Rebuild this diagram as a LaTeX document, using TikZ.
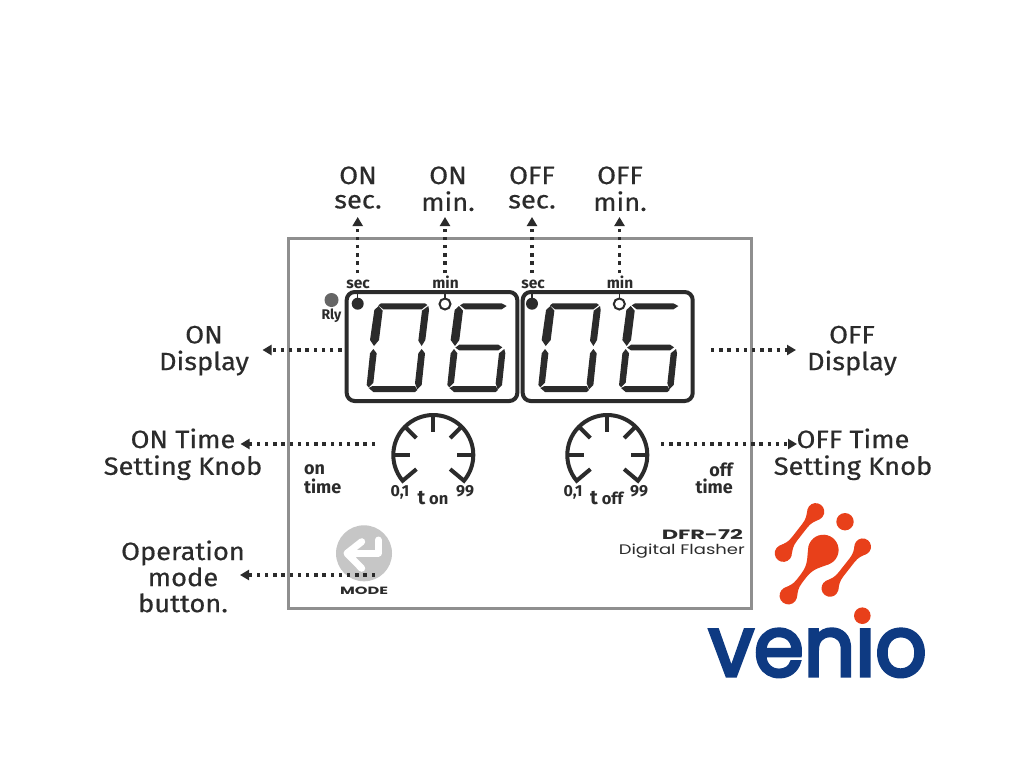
\documentclass[tikz,border=0pt]{standalone}
\usepackage{fontspec}
\usepackage{graphicx}
\usetikzlibrary{arrows.meta}
\setmainfont{Fira Sans}
\newfontfamily\labfont[FakeStretch=1.09,FakeBold=0.5]{Fira Sans}
\newfontfamily\widefont{Poppins}
\newfontfamily\venfont[FakeBold=4]{Poppins}
\definecolor{ink}{HTML}{2B2B2B}
\definecolor{framegray}{HTML}{8F8F8F}
\definecolor{btngray}{HTML}{C6C6C6}
\definecolor{rlygray}{HTML}{666666}
\definecolor{logoorange}{HTML}{E8401A}
\definecolor{logoblue}{HTML}{0E3A82}
\newcommand{\mlc}[1]{\begin{tabular}[t]{@{}c@{}}#1\end{tabular}}
\newcommand{\mll}[1]{\begin{tabular}[t]{@{}l@{}}#1\end{tabular}}
\newcommand{\mlr}[1]{\begin{tabular}[t]{@{}r@{}}#1\end{tabular}}
\tikzset{
  lab/.style={inner sep=0pt,anchor=base,text=ink,font=\labfont\fontsize{25}{24.4}\selectfont},
  tiny/.style={inner sep=0pt,anchor=base,text=ink,font=\fontsize{#1}{#1}\selectfont\bfseries},
  conn/.style={draw=ink,line width=3.4pt,dash pattern=on 3.4pt off 4.8pt,-{Triangle[length=9pt,width=10pt,fill=ink]}},
  dispbox/.style={draw=ink,line width=4pt,rounded corners=8pt},
  seg/.style={fill=ink,draw=none},
  knobline/.style={draw=ink,line width=4pt},
}
\newcommand{\zeroandsix}{%
  \fill[seg] (175,106)--(183,100)--(315,100)--(322,105)--(305,118)--(190,118)--cycle;
  \fill[seg] (176,108)--(188,122)--(177,210)--(162,228)--(150,210)--(163,120)--cycle;
  \fill[seg] (325,108)--(327,120)--(316,210)--(305,228)--(295,212)--(306,122)--cycle;
  \fill[seg] (160,237)--(170,250)--(160,338)--(146,352)--(140,345)--(150,250)--cycle;
  \fill[seg] (305,237)--(315,250)--(305,345)--(292,358)--(285,340)--(295,250)--cycle;
  \fill[seg] (146,354)--(158,348)--(285,348)--(292,360)--(285,366)--(160,366)--cycle;
  \fill[seg] (420,106)--(430,100)--(545,100)--(560,108)--(545,118)--(435,118)--cycle;
  \fill[seg] (417,108)--(429,122)--(418,210)--(405,228)--(392,210)--(404,120)--cycle;
  \fill[seg] (406,233)--(418,224)--(535,224)--(547,232)--(535,241)--(418,241)--cycle;
  \fill[seg] (402,237)--(412,250)--(402,338)--(388,352)--(382,345)--(392,250)--cycle;
  \fill[seg] (553,237)--(556,250)--(546,345)--(533,358)--(527,340)--(537,250)--cycle;
  \fill[seg] (388,354)--(400,348)--(527,348)--(534,360)--(527,366)--(402,366)--cycle;
}
\newcommand{\knob}[1]{%
  \begin{scope}[shift={(#1,455)},x=1pt,y=1pt]
    \draw[knobline] (220:22) -- (220:40) arc[start angle=220,end angle=-40,radius=40] -- (-40:22);
    \draw[knobline] (180:40) -- (180:23);
    \draw[knobline] (135:40) -- (135:24);
    \draw[knobline] (90:40) -- (90:23);
    \draw[knobline] (45:40) -- (45:24);
    \draw[knobline] (0:40) -- (0:24);
  \end{scope}
}
\newcommand{\dumb}[6]{%
  \pgfmathsetmacro{\dang}{atan2(-(#5-#2),#4-#1)}
  \pgfmathsetmacro{\dlen}{veclen(#4-#1,#5-#2)}
  \begin{scope}[shift={(#1,#2)},rotate=\dang,x=1pt,y=1pt]
    \fill[logoorange] (0,0) circle[radius=#3];
    \fill[logoorange] (\dlen,0) circle[radius=#6];
    \fill[logoorange] ({#3*0.5},{#3*0.85})
      .. controls ({#3*1.0},{#3*0.6}) and ({#3*1.3},3.1) .. ({#3*2.1},3.1)
      -- ({\dlen-#6*2.1},3.1)
      .. controls ({\dlen-#6*1.3},3.1) and ({\dlen-#6*1.0},{#6*0.6}) .. ({\dlen-#6*0.5},{#6*0.85})
      -- ({\dlen-#6*0.5},{-#6*0.85})
      .. controls ({\dlen-#6*1.0},{-#6*0.6}) and ({\dlen-#6*1.3},-3.1) .. ({\dlen-#6*2.1},-3.1)
      -- ({#3*2.1},-3.1)
      .. controls ({#3*1.3},-3.1) and ({#3*1.0},{-#3*0.6}) .. ({#3*0.5},{-#3*0.85}) -- cycle;
  \end{scope}
}
\begin{document}
\begin{tikzpicture}[x=1pt,y=-1pt]
\useasboundingbox (0,0) rectangle (1024,768);
\fill[white] (0,0) rectangle (1024,768);

% frame
\draw[draw=framegray,line width=3pt] (288.5,238) rectangle (751,608);

% displays
\draw[dispbox] (346.7,292) rectangle (517.3,401);
\draw[dispbox] (522.7,292) rectangle (692.7,401);
\begin{scope}[shift={(320,270)},x=0.33333pt,y=-0.33333pt]
  \zeroandsix
\end{scope}
\begin{scope}[shift={(491.7,270)},x=0.33333pt,y=-0.33333pt]
  \zeroandsix
\end{scope}

% indicator dots
\fill[rlygray] (331.5,300) circle[radius=7];
\node[tiny=14] (rly) at (331.5,319) {Rly};
\fill[ink] (357.7,303.7) circle[radius=6];
\draw[ink,line width=2pt,fill=white] (445,304) circle[radius=5.5];
\fill[ink] (532,303.7) circle[radius=6];
\draw[ink,line width=2pt,fill=white] (619.3,304) circle[radius=5.5];
\foreach \tx in {357.7,445,532,619.3} \draw[ink,line width=1.5pt] (\tx,292) -- (\tx,298);
\node[tiny=15.5] (s1) at (358,288) {sec};
\node[tiny=15.5] (m1) at (445.5,288) {min};
\node[tiny=15.5] (s2) at (533,288) {sec};
\node[tiny=15.5] (m2) at (620,288) {min};

% knobs
\knob{433.3}
\knob{607.3}
\node[tiny=16] (lo1) at (400,496.7) {0,1};
\node[tiny=16] (hi1) at (465,496.7) {99};
\node[tiny=16.5] (t1) at (433,504) {{\fontsize{20}{20}\selectfont t} on};
\node[tiny=16] (lo2) at (573,496.7) {0,1};
\node[tiny=16] (hi2) at (639,496.7) {99};
\node[tiny=16.5] (t2) at (606.7,504) {{\fontsize{20}{20}\selectfont t} off};
\node[tiny=18,anchor=base west] (ont) at (304,474) {\mll{on\\[-0.5pt]time}};
\node[tiny=18,anchor=base east] (offt) at (733,476.7) {\mlr{off\\[-3pt]time}};

% mode button
\node[circle,fill=btngray,minimum size=56pt,inner sep=0pt] (btn) at (364,553.3) {};
\draw[white,line width=7pt,line cap=round,line join=round] (378.3,540) -- (378.3,553) -- (348,553);
\draw[white,line width=7pt,line cap=round,line join=round] (361.7,541.7) -- (347,553.3) -- (361.7,568.3);
\node[inner sep=0pt,anchor=base,text=ink] (mode) at (364,594) {\resizebox{48pt}{7.5pt}{\widefont\bfseries MODE}};
\node[inner sep=0pt,anchor=base east,text=ink] (dfr) at (743,539) {\resizebox{81pt}{10pt}{\widefont\bfseries DFR-72}};
\node[inner sep=0pt,anchor=base east,text=ink] (dig) at (745,554) {\resizebox{126pt}{10.5pt}{\widefont Digital Flasher}};

% labels
\node[lab] (onsec) at (358,184) {\mlc{ON\\sec.}};
\node[lab] (onmin) at (448,184) {\mlc{ON\\min.}};
\node[lab] (offsec) at (532,184) {\mlc{OFF\\sec.}};
\node[lab] (offmin) at (620,184) {\mlc{OFF\\min.}};
\node[lab] (ondisp) at (204,343.3) {\mlc{ON\\Display}};
\node[lab] (offdisp) at (852,343.3) {\mlc{OFF\\Display}};
\node[lab] (onknob) at (183,448) {\mlc{ON Time\\Setting Knob}};
\node[lab] (offknob) at (853,448) {\mlc{OFF Time\\Setting Knob}};
\node[lab] (opmode) at (183,560) {\mlc{Operation\\mode\\button.}};

% connector ends
\coordinate (c1a) at (357.7,273); \coordinate (c1b) at (357.7,217);
\coordinate (c2a) at (445,273);   \coordinate (c2b) at (445,217);
\coordinate (c3a) at (532,273);   \coordinate (c3b) at (532,217);
\coordinate (c4a) at (619.5,273); \coordinate (c4b) at (619.5,217);
\coordinate (c5a) at (341.5,350); \coordinate (c5b) at (262.5,350);
\coordinate (c6a) at (711,350);   \coordinate (c6b) at (796,350);
\coordinate (c7a) at (375,444);   \coordinate (c7b) at (240.5,444);
\coordinate (c8a) at (661,444);   \coordinate (c8b) at (797,444);
\coordinate (c9a) at (375,575);   \coordinate (c9b) at (240,575);
\foreach \n in {1,...,9} \draw[conn] (c\n a) -- (c\n b);

% logo
\dumb{815.7}{511.7}{8.6}{783.3}{553.3}{8.6}
\dumb{823.3}{550}{15.3}{788.3}{595.7}{8.8}
\dumb{862.7}{546.7}{8.3}{830}{588.3}{8.5}
\fill[logoorange] (845,521.7) circle[radius=8.7];
\fill[logoorange] (862.3,615.7) circle[radius=8.3];
\node[inner sep=0pt,anchor=base west,text=logoblue] (venio) at (708.5,676) {\resizebox{218pt}{47pt}{\venfont venıo}};
\end{tikzpicture}
\end{document}
